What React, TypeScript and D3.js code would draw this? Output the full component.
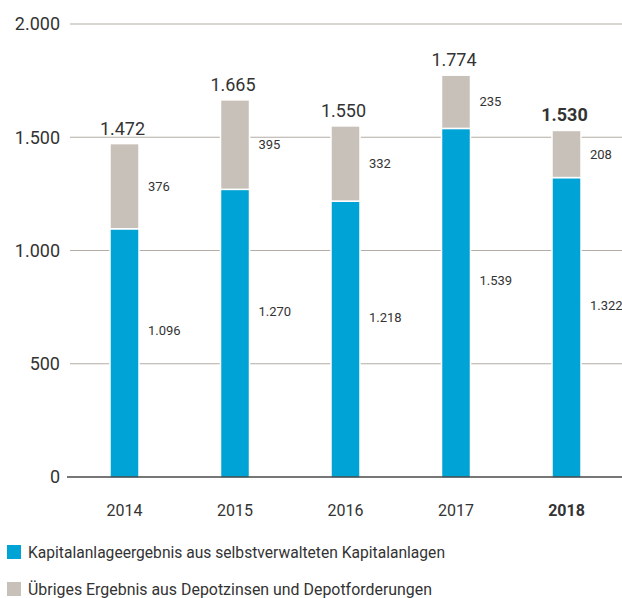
import React from "react";
import * as d3 from "d3";

// chart values (in Mio. €)
const years = ["2014", "2015", "2016", "2017", "2018"];
const selfManaged = [1096, 1270, 1218, 1539, 1322];
const otherResult = [376, 395, 332, 235, 208];
const totals = [1472, 1665, 1550, 1774, 1530];
const yTicks = [0, 500, 1000, 1500, 2000];
const legendLabels = [
  "Kapitalanlageergebnis aus selbstverwalteten Kapitalanlagen",
  "Übriges Ergebnis aus Depotzinsen und Depotforderungen",
];

const BLUE = "#00a3d6";
const GREY = "#c8c1ba";
const TEXT = "#333333";
const FONT = "Roboto, 'Open Sans', sans-serif";

// german number format 1.472
const fmt = (v: number) => d3.format(",")(v).replace(/,/g, ".");

export default function App() {
  const width = 622;
  const height = 598;

  //scales
  const x = d3.scalePoint<string>().domain(years).range([69.25, 621.75]).padding(0.5);
  const y = d3.scaleLinear().domain([0, 2000]).range([477, 24]);
  const barW = 29;
  const last = years[years.length - 1];
  const legendWidths = [417, 404];

  return (
    <svg
      width={width}
      height={height}
      style={{ position: "absolute", left: 0, top: 0, fontFamily: FONT }}
    >
      {/* gridlines */}
      {yTicks.map((t) => (
        <g key={t}>
          {t !== 0 && (
            <line x1={70} x2={622} y1={y(t)} y2={y(t)} stroke="#b3ada5" strokeWidth={1.2} />
          )}
          <text
            x={60}
            y={y(t)}
            dy="0.35em"
            textAnchor="end"
            fontSize={18}
            fill={TEXT}
          >
            {fmt(t)}
          </text>
        </g>
      ))}

      {/* bars */}
      {years.map((yr, i) => {
        const cx = x(yr) as number;
        const blueTop = y(selfManaged[i]);
        const greyTop = y(selfManaged[i] + otherResult[i]);
        const bold = yr === last;
        return (
          <g key={yr}>
            <rect
              x={cx - barW / 2}
              y={blueTop}
              width={barW}
              height={y(0) - blueTop + 1}
              fill={BLUE}
              stroke="#fff"
              strokeWidth={1.5}
            />
            <rect
              x={cx - barW / 2}
              y={greyTop}
              width={barW}
              height={blueTop - greyTop}
              fill={GREY}
              stroke="#fff"
              strokeWidth={1.5}
            />
            {/* segment labels */}
            <text
              x={cx + barW / 2 + 9}
              y={(greyTop + blueTop) / 2}
              dy="0.35em"
              fontSize={13}
              fill={TEXT}
            >
              {otherResult[i]}
            </text>
            <text
              x={cx + barW / 2 + 9}
              y={(blueTop + y(0)) / 2 - 22}
              dy="0.35em"
              fontSize={13}
              fill={TEXT}
            >
              {fmt(selfManaged[i])}
            </text>
            {/* total */}
            <text
              x={cx - 2}
              y={y(totals[i]) - 9}
              textAnchor="middle"
              fontSize={18}
              fontWeight={bold ? 700 : 400}
              fill={TEXT}
            >
              {fmt(totals[i])}
            </text>
            {/* year */}
            <text
              x={cx}
              y={510}
              dy="0.35em"
              textAnchor="middle"
              fontSize={16}
              fontWeight={bold ? 700 : 400}
              fill={TEXT}
            >
              {yr}
            </text>
          </g>
        );
      })}

      {/* zero line */}
      <line x1={67} x2={622} y1={y(0)} y2={y(0)} stroke="#4a4a4a" strokeWidth={1.5} />

      {/* legend */}
      {legendLabels.map((l, i) => (
        <g key={l} transform={`translate(7,${545 + i * 37})`}>
          <rect width={14} height={14} fill={i === 0 ? BLUE : GREY} />
          <text
            x={21}
            y={7}
            dy="0.35em"
            fontSize={16.5}
            fill={TEXT}
            textLength={legendWidths[i]}
            lengthAdjust="spacingAndGlyphs"
          >
            {l}
          </text>
        </g>
      ))}
    </svg>
  );
}
